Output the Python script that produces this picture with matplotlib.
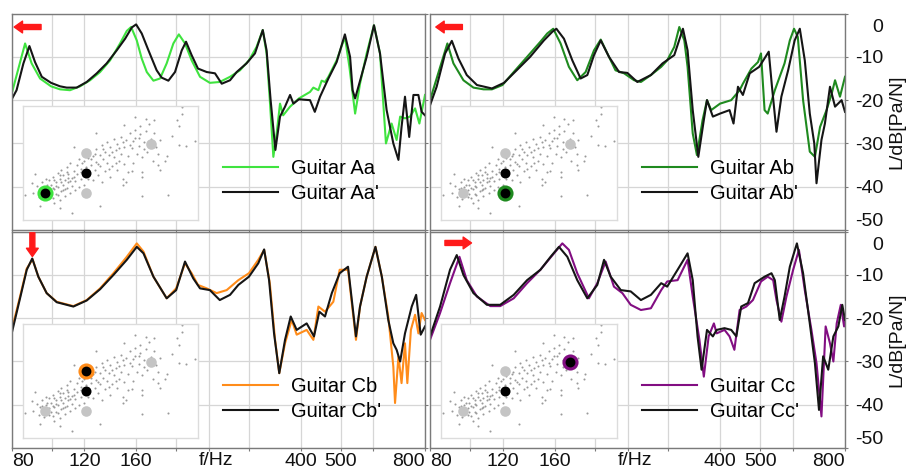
import matplotlib.pyplot as plt
from matplotlib.ticker import NullLocator
from matplotlib.transforms import ScaledTranslation

plt.rcParams['font.family'] = ['Liberation Sans', 'DejaVu Sans']

# ---- frequency responses (f in Hz, L in dB re 1 Pa/N) ----
f_aa = [80, 86.2, 89.4, 93.7, 99.6, 104.7, 110.7, 117.1, 123.8, 130.9, 138.4, 146.3, 151.9, 155.6, 160.6,
        165.1, 169.8, 176.2, 182.8, 189.7, 196.9, 203.0, 210.1, 218, 228.4, 241.3, 255, 270, 285.4, 300,
        313, 324, 331, 337, 343.7, 350, 356.7, 363, 377.2, 396.3, 421.6, 429.5, 441.7, 449.8, 458.3,
        467, 489, 512, 525, 542, 557, 578, 602, 622.6, 643.6, 664.2, 683, 696.5, 715.6, 736, 757, 775.3, 800]
L_aa = [-18.5, -6.9, -11.5, -15.0, -16.8, -17.5, -17.7, -16.8, -15.4, -13.5, -10.8, -6.9, -4.0, -3.1, -6.2,
        -10.4, -13.5, -15.5, -15.0, -11.5, -6.9, -4.8, -6.9, -10.8, -14.6, -16.0, -15.8, -14.6, -13.1, -10.8,
        -7.7, -3.8, -9.2, -20, -33.1, -27.7, -20.8, -23.5, -21.5, -19.6, -18.1, -17.1, -17.7, -15.5, -15.8,
        -14.6, -10.8, -5.4, -12.3, -23.1, -16.2, -9.2, -2.7, -9.2, -30, -25.4, -29.2, -23.8, -24.2, -23.8,
        -21.9, -25.4, -18.8]

f_aa2 = [80, 82.2, 85.4, 88.3, 91.1, 94.6, 99.6, 104.7, 108.7, 114.9, 121.5, 128.5, 135.8, 143.6, 150.5,
         156.2, 160, 165.1, 171.4, 179.4, 184.5, 191.5, 198.7, 206.3, 211.3, 218, 225.8, 237.1, 248.3, 257.8,
         270, 280.2, 296, 310.2, 324, 331, 338.5, 347.6, 356.7, 366.8, 377.2, 384.3, 396.3, 421.6, 433,
         445.8, 467, 489, 512, 527, 534.5, 542, 552, 578, 602, 622.6, 646, 670.6, 690, 702, 715.6, 732.6,
         750, 771, 785, 800]
L_aa2 = [-19.8, -17.7, -11.5, -7.5, -11.2, -14.6, -16.0, -16.8, -17.1, -17.1, -15.8, -13.8, -11.5, -8.5, -5.8,
         -3.2, -2.5, -4.6, -8.5, -13.1, -14.8, -15.5, -13.5, -8.5, -6.5, -9.6, -12.7, -13.5, -13.8, -16.2,
         -15.4, -13.5, -11.5, -9.2, -3.8, -8.5, -20, -31.5, -23.8, -21.5, -18.8, -20.8, -19.8, -20, -22.7,
         -19.2, -15, -11.2, -4.8, -10, -17.7, -19.6, -16.9, -10, -2.7, -9.2, -22.3, -30, -33.8, -26.2,
         -19.2, -28.5, -18.8, -18.8, -22.7, -23.5]

f_ab = [80, 88.1, 91.1, 96.3, 101.8, 107.7, 112.8, 119.6, 127.3, 137.1, 147.6, 153.3, 158.5, 165.1, 172.9,
        181.1, 189.7, 198.7, 206.3, 214, 223.9, 234.9, 248.3, 257.8, 272.5, 288.5, 298.3, 310.2, 319, 328,
        334, 343.7, 351.8, 363, 372, 380.7, 400, 425.5, 445.8, 454, 476, 493.6, 502, 512, 521,
        542, 572, 589, 603, 615.7, 634, 658, 677, 696.5, 722, 743, 757, 778, 800]
L_ab = [-20, -6.9, -11.5, -15.4, -17.1, -17.5, -17.5, -16.5, -13.5, -10, -6.5, -4.6, -3.5, -6.9, -12.3,
        -15.4, -13.5, -8.5, -6, -9.2, -13.1, -13.8, -15.4, -15.8, -14.2, -12.3, -10.8, -7.7, -3.1, -6.2,
        -12.3, -27.7, -32.7, -24.6, -20, -22.3, -20.8, -20, -17.7, -16.2, -12.7, -11.2, -9.2, -22.3, -23.1,
        -17.7, -11.5, -6.2, -3.5, -5.4, -20, -31.9, -33.1, -26.2, -22.3, -18.5, -15.4, -19.2, -14.6]

f_ab2 = [80, 83, 87, 90.3, 93.7, 98.1, 103.8, 112.8, 120.6, 129.4, 139.4, 150.5, 157.7, 161.3, 168.2,
         176.2, 184.5, 191.5, 198.7, 206.3, 216, 228.4, 239.1, 252.7, 272.5, 290.7, 310.2, 325.5, 334, 343.7,
         354.5, 365.5, 372, 384.3, 400, 421.6, 431, 441.7, 454, 471.5, 497, 524, 533.5, 547, 562,
         583.5, 605, 622.6, 640, 658, 674.6, 683, 702, 715.6, 736, 757, 785, 800]
L_ab2 = [-21.2, -16.9, -9.2, -6.3, -10.4, -14.2, -16.5, -17.3, -16.0, -13.1, -10, -6.2, -4.2, -3.5, -5.8,
         -10.8, -15, -14.2, -9.6, -6.2, -10, -13.5, -13.7, -15.8, -14.2, -11.5, -9.6, -3.5, -8.5, -22.3,
         -33.1, -24.6, -20, -23.8, -23.1, -22.3, -25.4, -16.9, -18.8, -13.8, -12.3, -8.8, -16.9, -27.3, -19.2,
         -13.1, -6.2, -3.5, -10.8, -23.1, -30, -39.2, -29.2, -25.4, -16.9, -21.5, -20, -22.7]

f_cb = [80, 83.8, 87, 89.9, 92.8, 97.2, 102.8, 112.8, 121.5, 130.9, 141, 151.9, 160.6, 166.7, 176.2,
        189.7, 200, 210.1, 218, 225.8, 237.1, 250.6, 265, 282.8, 300, 316, 326.5, 337, 347, 355.2,
        366.8, 380.7, 391.4, 413.8, 429.5, 441.7, 458.3, 480, 497.3, 521, 544.6, 557, 578, 607, 629,
        652, 670.6, 677, 690, 702, 715.6, 725, 739.5, 757, 771, 785, 800]
L_cb = [-22.7, -15, -8.5, -6.4, -10.4, -14.2, -16.2, -17.2, -15.8, -13.1, -9.6, -5.8, -2.7, -4.6, -10.4,
        -15.4, -13.1, -7.3, -9.6, -12.3, -13.1, -14.2, -13.5, -11.2, -9.6, -6.5, -4.2, -11.9, -25, -32.7,
        -25.8, -20.4, -23.8, -22.7, -25, -17.3, -18.5, -16.2, -8.8, -8.8, -25, -17.3, -10.4, -3.5, -10.4,
        -19.6, -31.2, -39.6, -28.8, -35, -25.8, -35, -22.7, -19.2, -23.5, -18.8, -20.4]

f_cb2 = [80, 83.8, 87, 89.7, 92.8, 97.2, 102.8, 112.8, 121.5, 130.9, 141, 151.9, 160.6, 166.7, 176.2,
         189.7, 200, 210.1, 220, 228.4, 241.3, 255, 270, 282.8, 300, 316, 326.5, 335.6, 345, 355.2,
         366.8, 378.6, 391.4, 413.8, 431, 444, 458.3, 476, 497.3, 521, 544.6, 557, 578, 607, 629,
         652, 670.6, 683, 696.5, 715.6, 743, 761.5, 781, 800]
L_cb2 = [-23.5, -15.4, -8.8, -6.2, -10.4, -14.2, -16.3, -17.3, -15.9, -13.3, -10, -6.5, -3.5, -5, -10.4,
         -15.4, -13.5, -6.9, -10.8, -13.1, -13.5, -15.8, -14.6, -12.3, -10.4, -7.3, -4.1, -11.2, -23.5, -32.7,
         -25, -19.6, -22.7, -21.2, -24.2, -18.5, -19.6, -14.2, -9.6, -8.1, -24.2, -17.3, -10.4, -3.5, -10.4,
         -20.4, -25.8, -27.3, -30, -23.5, -17.3, -14.6, -23.8, -21.9]

f_cc = [80, 84.6, 89.4, 94.2, 98.1, 103.8, 111.8, 118.1, 127.3, 137.1, 147.6, 159.2, 166.7, 172.9, 181.1,
        193.2, 202.4, 212, 222, 232.6, 243.6, 257.8, 272.5, 288.5, 298.3, 316, 334, 343.7, 356.7, 365.5,
        375.4, 386.5, 392.5, 410, 421.6, 433, 445.8, 462.6, 480, 502, 521, 537, 547, 562, 578,
        600, 619.5, 640, 664, 683, 702, 718.5, 736, 750, 764, 781.5, 796, 800]
L_cc = [-25, -18.8, -11.9, -5.8, -11.2, -15, -17.2, -17.2, -15.4, -11.9, -8.8, -5, -2.7, -4.2, -9.6,
        -15.4, -11.9, -6.9, -12.7, -14.2, -16.9, -18.1, -17.7, -13.5, -11.5, -11.2, -6.5, -15, -25, -33.5,
        -24.2, -21.2, -23.5, -22.7, -24.2, -27.3, -18.1, -17.3, -15.8, -11.5, -10.4, -11.2, -15.8, -20.8, -15,
        -8.8, -4.2, -13.5, -22.7, -30.4, -42.7, -21.9, -25.8, -30, -21.2, -16.9, -21.9, -19.6]

f_cc2 = [80, 84.6, 89.4, 92.8, 96.3, 101.8, 109.7, 118.1, 127.3, 137.1, 147.6, 156.2, 163.6, 171.4, 181.1,
         191.5, 202.4, 210.1, 218, 230.6, 243.6, 257.8, 272.5, 288.5, 298.3, 316, 334, 343.7, 353, 361,
         372, 384.3, 392.5, 410, 425.5, 437.7, 449.8, 467, 484.5, 512, 532, 542, 557, 572, 589,
         612.6, 634, 658, 677, 692.5, 708.6, 729, 750, 771, 788, 800]
L_cc2 = [-24.2, -17.3, -8.8, -5.4, -10, -14.2, -16.9, -16.9, -14.6, -11.2, -8.8, -5.8, -3.5, -5.8, -11.2,
         -15.4, -12.3, -6.5, -10.4, -13.5, -13.8, -15.8, -14.6, -11.9, -12.7, -8.8, -5, -11.2, -24.2, -31.9,
         -22.7, -24.2, -22.7, -22.3, -22.7, -24.2, -17.3, -16.5, -11.9, -10.4, -9.6, -11.2, -20.4, -15, -8.1,
         -2.7, -9.6, -21.2, -30.4, -41.2, -28.8, -31.9, -24.2, -21.9, -16.9, -20.4]

# ---- inset: feature-space cloud (inset units 0..1) ----
cloud_u = [0.06, 0.08, 0.09, 0.10, 0.11, 0.12, 0.13, 0.14, 0.15, 0.15, 0.16, 0.17, 0.17, 0.18, 0.19, 0.19,
           0.20, 0.20, 0.21, 0.21, 0.22, 0.22, 0.23, 0.23, 0.24, 0.24, 0.25, 0.25, 0.26, 0.26, 0.27, 0.27,
           0.28, 0.28, 0.29, 0.30, 0.30, 0.31, 0.31, 0.32, 0.32, 0.33, 0.33, 0.34, 0.35,
           0.36, 0.37, 0.38, 0.38, 0.39, 0.40, 0.40, 0.41, 0.42, 0.42, 0.43, 0.44, 0.44, 0.45, 0.45, 0.46,
           0.47, 0.47, 0.48, 0.48, 0.49, 0.50, 0.50, 0.51, 0.52, 0.52, 0.53, 0.54, 0.54, 0.55, 0.56, 0.56,
           0.57, 0.58, 0.58, 0.59, 0.60, 0.60,
           0.61, 0.62, 0.63, 0.63, 0.64, 0.65, 0.66, 0.66, 0.67, 0.68, 0.69, 0.70, 0.71, 0.72, 0.73, 0.74,
           0.75, 0.76, 0.77, 0.78,
           0.91, 0.91, 0.88, 0.89, 0.85, 0.89, 0.93, 0.98, 0.82, 0.81, 0.77, 0.78, 0.68, 0.59, 0.57, 0.62,
           0.68, 0.44, 0.28, 0.21, 0.10, 0.01, 0.07, 0.05, 0.83, 0.68, 0.42, 0.29, 0.58, 0.64, 0.70, 0.75,
           0.12, 0.14, 0.16, 0.18, 0.20, 0.22, 0.24, 0.26, 0.13, 0.17, 0.19, 0.21, 0.23, 0.25, 0.27, 0.29,
           0.18, 0.11, 0.15, 0.33, 0.35, 0.37, 0.39, 0.41, 0.43, 0.46, 0.49, 0.51, 0.53, 0.55, 0.57, 0.61,
           0.64, 0.67, 0.69]
cloud_v = [0.24, 0.30, 0.20, 0.27, 0.33, 0.18, 0.29, 0.22, 0.35, 0.26, 0.31, 0.19, 0.38, 0.27, 0.33, 0.23,
           0.41, 0.29, 0.36, 0.17, 0.25, 0.44, 0.31, 0.39, 0.21, 0.35, 0.28, 0.46, 0.33, 0.40, 0.24, 0.50,
           0.37, 0.30, 0.43, 0.26, 0.34, 0.48, 0.40, 0.29, 0.53, 0.45, 0.36, 0.50, 0.31,
           0.46, 0.54, 0.40, 0.60, 0.48, 0.35, 0.56, 0.44, 0.62, 0.51, 0.39, 0.57, 0.47, 0.66, 0.33, 0.53,
           0.60, 0.43, 0.68, 0.50, 0.57, 0.38, 0.64, 0.47, 0.55, 0.71, 0.61, 0.44, 0.67, 0.52, 0.73, 0.58,
           0.36, 0.64, 0.49, 0.70, 0.56, 0.42,
           0.76, 0.63, 0.69, 0.50, 0.79, 0.58, 0.72, 0.65, 0.82, 0.55, 0.68, 0.78, 0.60, 0.84, 0.71, 0.52,
           0.76, 0.64, 0.58, 0.70,
           0.99, 0.93, 0.88, 0.82, 0.74, 0.66, 0.65, 0.69, 0.56, 0.52, 0.48, 0.44, 0.38, 0.33, 0.31, 0.43,
           0.42, 0.12, 0.06, 0.10, 0.12, 0.22, 0.40, 0.32, 0.22, 0.21, 0.76, 0.64, 0.83, 0.90, 0.89, 0.88,
           0.25, 0.31, 0.23, 0.35, 0.22, 0.33, 0.27, 0.37, 0.36, 0.28, 0.30, 0.39, 0.26, 0.42, 0.34, 0.38,
           0.15, 0.28, 0.20, 0.42, 0.52, 0.36, 0.53, 0.58, 0.49, 0.62, 0.45, 0.60, 0.50, 0.63, 0.68, 0.66,
           0.72, 0.75, 0.62]

# reference guitars in the inset: A, upper, lower, C ; mean in the middle
ref_u = [0.125, 0.36, 0.36, 0.73]
ref_v = [0.24, 0.59, 0.24, 0.665]
mean_u, mean_v = 0.36, 0.415

panels = [
    dict(rect=[0.01287, 0.51064, 0.45468, 0.46043], f1=f_aa, L1=L_aa, f2=f_aa2, L2=L_aa2,
         color='#3fe33f', name='Guitar Aa', hl=0, arrow=((0.071, 0.938), (0.006, 0.938)),
         bottom=False, right=False),
    dict(rect=[0.47305, 0.51064, 0.45655, 0.46043], f1=f_ab, L1=L_ab, f2=f_ab2, L2=L_ab2,
         color='#1f8a1f', name='Guitar Ab', hl=2, arrow=((0.078, 0.938), (0.014, 0.938)),
         bottom=False, right=True),
    dict(rect=[0.01287, 0.04681, 0.45468, 0.46021], f1=f_cb, L1=L_cb, f2=f_cb2, L2=L_cb2,
         color='#ff8c1a', name='Guitar Cb', hl=1, arrow=((0.05, 0.995), (0.05, 0.885)),
         bottom=True, right=False),
    dict(rect=[0.47305, 0.04681, 0.45655, 0.46021], f1=f_cc, L1=L_cc, f2=f_cc2, L2=L_cc2,
         color='#820e82', name='Guitar Cc', hl=3, arrow=((0.036, 0.948), (0.10, 0.948)),
         bottom=True, right=True),
]

xticks = [80, 100, 120, 160, 200, 240, 300, 400, 500, 600, 800]
xlabels = ['80', '', '120', '160', '', '', '', '400', '500', '', '800']
yticks = [-50, -40, -30, -20, -10, 0]

fig = plt.figure(figsize=(9.09, 4.70), dpi=100)

for p in panels:
    ax = fig.add_axes(p['rect'])
    ax.set_xscale('log')
    ax.plot(p['f1'], p['L1'], color=p['color'], lw=1.5, label=p['name'])
    ax.plot(p['f2'], p['L2'], color='#151515', lw=1.5, label=p['name'] + "'")
    ax.set_xlim(80, 800)
    ax.set_ylim(-50, 0)

    ax.set_xticks(xticks)
    ax.xaxis.set_minor_locator(NullLocator())
    ax.set_yticks(yticks)
    ax.yaxis.tick_right()
    ax.grid(True, color='#d6d6d6', lw=0.9)
    ax.set_axisbelow(True)
    for s in ax.spines.values():
        s.set_color('#7a7a7a')
        s.set_linewidth(1.0)
    ax.tick_params(direction='out', length=2.5, width=0.8, color='#7a7a7a', labelsize=14,
                   labelcolor='#111111')
    ax.tick_params(axis='x', pad=1)
    ax.tick_params(axis='y', pad=25)

    if p['bottom']:
        ax.set_xticklabels(xlabels)
        tl = ax.get_xticklabels()
        tl[0].set_horizontalalignment('left')
        tl[-1].set_horizontalalignment('right')
        ax.text(250, -0.018, 'f/Hz', transform=ax.get_xaxis_transform(), ha='center', va='top',
                fontsize=14, color='#111111')
    else:
        ax.set_xticklabels([''] * len(xticks))

    if p['right']:
        ax.set_yticklabels([str(v) for v in yticks])
        yl = ax.get_yticklabels()
        for t in yl:
            t.set_horizontalalignment('right')
        yl[0].set_verticalalignment('bottom')
        yl[-1].set_verticalalignment('top')
        yl[-1].set_transform(yl[-1].get_transform() +
                             ScaledTranslation(0, -4 / 72, fig.dpi_scale_trans))
        ax.text(1.125, 0.5, 'L/dB[Pa/N]', transform=ax.transAxes, rotation=90,
                ha='center', va='center', fontsize=14, color='#111111')
    else:
        ax.set_yticklabels([''] * len(yticks))

    ax.legend(loc='center left', bbox_to_anchor=(0.511, 0.2245), frameon=False, fontsize=14.5,
              handlelength=2.75, handletextpad=0.62, labelspacing=0.3, borderpad=0,
              borderaxespad=0)

    ax.annotate('', xy=p['arrow'][1], xytext=p['arrow'][0], xycoords='axes fraction',
                textcoords='axes fraction',
                arrowprops=dict(arrowstyle='simple,head_length=0.6,head_width=0.85,tail_width=0.36',
                                fc='#ff1a1a', ec='#ff1a1a', mutation_scale=10, shrinkA=0, shrinkB=0))

    ins = ax.inset_axes([0.027, 0.047, 0.424, 0.526])
    ins.set_facecolor('white')
    ins.set_xlim(0, 1)
    ins.set_ylim(0, 1)
    ins.set_xticks([])
    ins.set_yticks([])
    for s in ins.spines.values():
        s.set_color('#dcdcdc')
        s.set_linewidth(1.0)
    ins.scatter(cloud_u, cloud_v, s=2.2, color='#9a9a9a', linewidths=0)
    gu = [u for i, u in enumerate(ref_u) if i != p['hl']]
    gv = [v for i, v in enumerate(ref_v) if i != p['hl']]
    ins.scatter(gu, gv, s=58, color='#c4c4c4', linewidths=0, zorder=3)
    ins.scatter([ref_u[p['hl']]], [ref_v[p['hl']]], s=135, color=p['color'], linewidths=0, zorder=4)
    ins.scatter([ref_u[p['hl']]], [ref_v[p['hl']]], s=50, color='black', linewidths=0, zorder=5)
    ins.scatter([mean_u], [mean_v], s=52, color='black', linewidths=0, zorder=5)

fig.savefig('out.png', dpi=100)
